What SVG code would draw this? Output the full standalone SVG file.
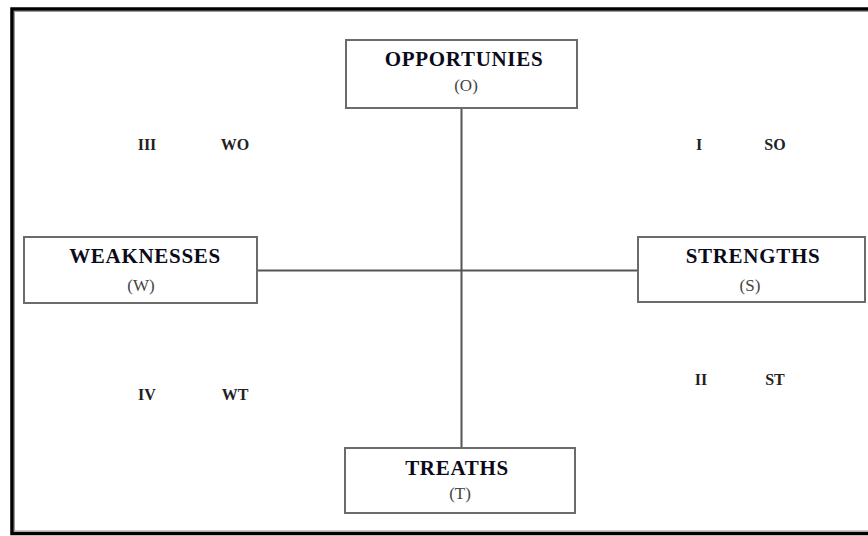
<svg xmlns="http://www.w3.org/2000/svg" width="868" height="536" viewBox="0 0 868 536">
<style>
.box{fill:#fff;stroke:#6b6b6b;stroke-width:2}
.title{font-family:"Liberation Serif","Times New Roman",serif;font-weight:bold;font-size:21px;fill:#0a0a1a;text-anchor:middle;letter-spacing:0.7px}
.sub{font-family:"Liberation Serif","Times New Roman",serif;font-size:17px;fill:#444;text-anchor:middle}
.lbl{font-family:"Liberation Serif","Times New Roman",serif;font-weight:bold;font-size:16px;fill:#222;text-anchor:middle}
.conn{stroke:#555;stroke-width:2;fill:none}
</style>
<rect width="868" height="536" fill="#fff"/>
<rect x="12" y="9" width="870" height="524.5" fill="none" stroke="#000" stroke-width="3.5"/>
<rect x="14.5" y="11.5" width="870" height="519.5" fill="none" stroke="#999" stroke-width="1"/>
<g id="connectors">
<line class="conn" x1="461.5" y1="108" x2="461.5" y2="448"/>
<line class="conn" x1="257" y1="270.5" x2="638" y2="270.5"/>
</g>
<g id="opportunities">
<rect class="box" x="346" y="40" width="231" height="68"/>
<text class="title" x="464" y="66">OPPORTUNIES</text>
<text class="sub" x="466" y="91">(O)</text>
</g>
<g id="weaknesses">
<rect class="box" x="24" y="237" width="233" height="66"/>
<text class="title" x="145" y="263">WEAKNESSES</text>
<text class="sub" x="141" y="291">(W)</text>
</g>
<g id="strengths">
<rect class="box" x="638" y="237" width="227" height="65"/>
<text class="title" x="753" y="263">STRENGTHS</text>
<text class="sub" x="750" y="291">(S)</text>
</g>
<g id="threats">
<rect class="box" x="345" y="448" width="230" height="65"/>
<text class="title" x="457" y="475">TREATHS</text>
<text class="sub" x="460" y="499">(T)</text>
</g>
<g id="labels">
<text class="lbl" x="147" y="150">III</text>
<text class="lbl" x="235" y="150">WO</text>
<text class="lbl" x="699" y="150">I</text>
<text class="lbl" x="775" y="150">SO</text>
<text class="lbl" x="147" y="400">IV</text>
<text class="lbl" x="235" y="400">WT</text>
<text class="lbl" x="701" y="385">II</text>
<text class="lbl" x="775" y="385">ST</text>
</g>
</svg>
